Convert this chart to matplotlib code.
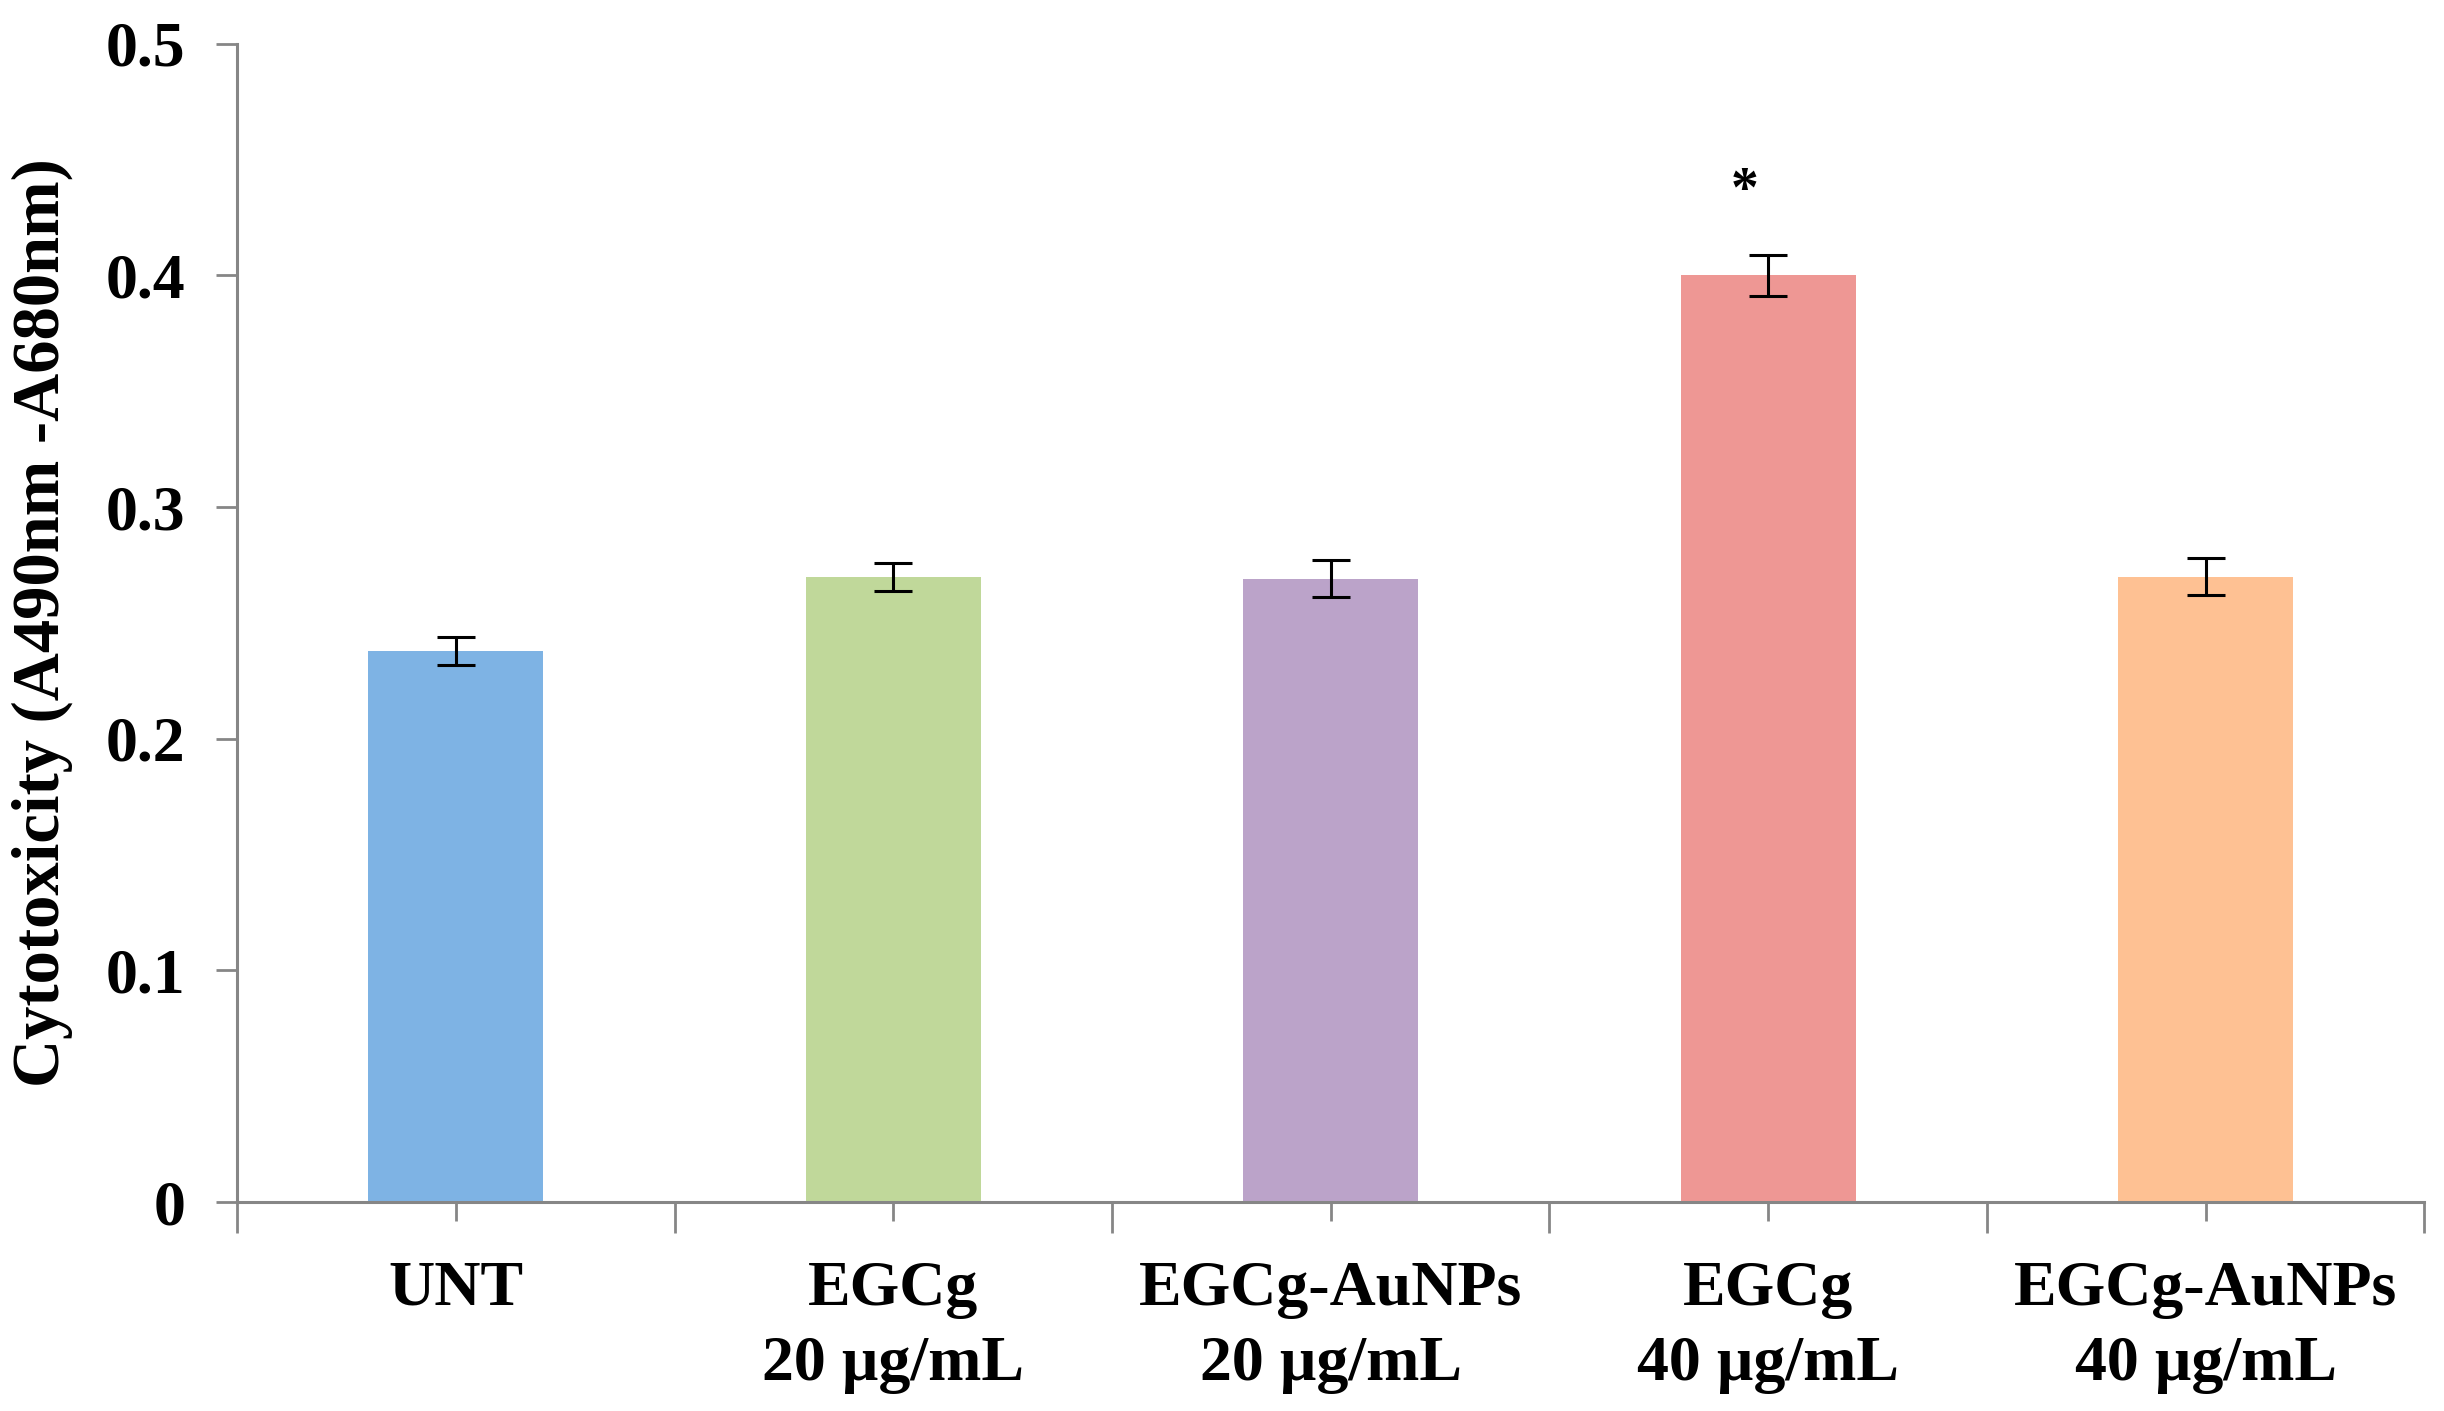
import matplotlib
matplotlib.use("Agg")
import matplotlib.pyplot as plt
import numpy as np

# ---------- data ----------
categories = ["UNT", "EGCg\n20 µg/mL", "EGCg-AuNPs\n20 µg/mL",
              "EGCg\n40 µg/mL", "EGCg-AuNPs\n40 µg/mL"]
values = [0.238, 0.270, 0.269, 0.400, 0.270]
errors = [0.006, 0.006, 0.008, 0.009, 0.008]
colors = ["#7EB3E4", "#C0D89A", "#BBA3C9", "#EE9794", "#FEC193"]
star_idx = 3

plt.rcParams["font.family"] = ["Liberation Serif", "DejaVu Serif"]
plt.rcParams["font.weight"] = "bold"

fig = plt.figure(figsize=(24.44, 14.11), dpi=100)
ax = fig.add_axes([0.097, 0.148, 0.895, 0.821])

x = np.arange(len(categories))
ax.bar(x, values, width=0.4, color=colors, zorder=2)
ax.errorbar(x, values, yerr=errors, fmt="none", ecolor="black",
            elinewidth=2.2, capsize=14, capthick=2.2, zorder=3)

# significance marker
ax.text(x[star_idx] - 0.055, values[star_idx] + 0.025, "*",
        ha="center", va="bottom", fontsize=40, fontweight="bold")

axis_grey = "#868686"
ax.set_xlim(-0.5, len(categories) - 0.5)
ax.set_ylim(0, 0.5)
ax.set_yticks([0, 0.1, 0.2, 0.3, 0.4, 0.5])
ax.set_yticklabels(["0", "0.1", "0.2", "0.3", "0.4", "0.5"])

ax.set_xticks(np.arange(len(categories) + 1) - 0.5)
ax.set_xticklabels([])
ax.set_xticks(x, minor=True)
ax.set_xticklabels(categories, minor=True, fontsize=46, fontweight="bold",
                   linespacing=1.4)

for s in ["top", "right"]:
    ax.spines[s].set_visible(False)
for s in ["left", "bottom"]:
    ax.spines[s].set_color(axis_grey)
    ax.spines[s].set_linewidth(2.2)

ax.tick_params(axis="y", which="major", length=15, width=2, color=axis_grey,
               labelsize=46, pad=22)
ax.tick_params(axis="x", which="major", length=22, width=2, color=axis_grey)
ax.tick_params(axis="x", which="minor", length=14, width=2, color=axis_grey,
               pad=28)

ax.set_ylabel("Cytotoxicity (A490nm -A680nm)", fontsize=48,
              fontweight="bold", labelpad=24)

fig.savefig("out.png", dpi=100)
